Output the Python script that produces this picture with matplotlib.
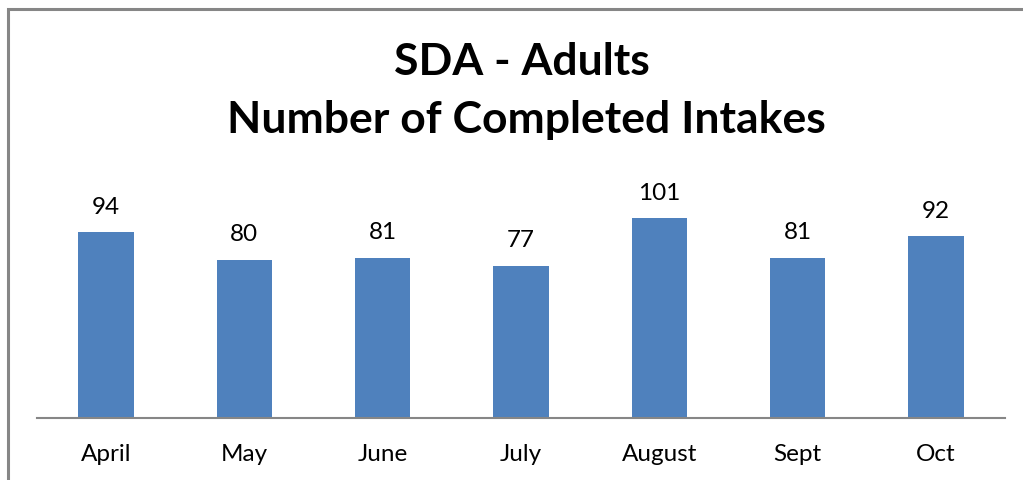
import matplotlib
matplotlib.use("Agg")
import matplotlib.pyplot as plt
from matplotlib.patches import Rectangle

months = ["April", "May", "June", "July", "August", "Sept", "Oct"]
intakes = [94, 80, 81, 77, 101, 81, 92]

W, H = 1023, 481
fig = plt.figure(figsize=(W / 100, H / 100), dpi=100)
plt.rcParams['font.family'] = ['Lato', 'DejaVu Sans']

# outer chart border (open at right/bottom as in cropped screenshot)
fig.patches.append(Rectangle((8 / W, -0.1), 1.2, (1 - 10 / H) + 0.1,
                             transform=fig.transFigure, fill=False,
                             edgecolor="#868686", linewidth=2.2))

ax_left, ax_right = 37 / W, 1005 / W
base = 419
top = base - 120 * 1.98
ax = fig.add_axes([ax_left, 1 - base / H, ax_right - ax_left, (base - top) / H])

x = range(len(months))
bars = ax.bar(x, intakes, width=0.4, color="#4F81BD")
ax.set_xlim(-0.5, len(months) - 0.5)
ax.set_ylim(0, 120)
for s in ["top", "right", "left"]:
    ax.spines[s].set_visible(False)
ax.spines["bottom"].set_color("#868686")
ax.spines["bottom"].set_linewidth(1.5)
ax.set_yticks([])
ax.set_xticks(list(x))
ax.set_xticklabels(months, fontsize=17.5)
ax.tick_params(axis="x", length=0, pad=18)

for xi, v in zip(x, intakes):
    ax.annotate(str(v), (xi, v), xytext=(0, 11), textcoords="offset points",
                ha="center", va="bottom", fontsize=17.5)

fig.text(522 / W, 1 - 62 / H, "SDA - Adults", ha="center", va="center",
         fontsize=32, fontweight="bold")
fig.text(526 / W, 1 - 120 / H, "Number of Completed Intakes", ha="center",
         va="center", fontsize=32, fontweight="bold")

fig.savefig("out.png", dpi=100)
